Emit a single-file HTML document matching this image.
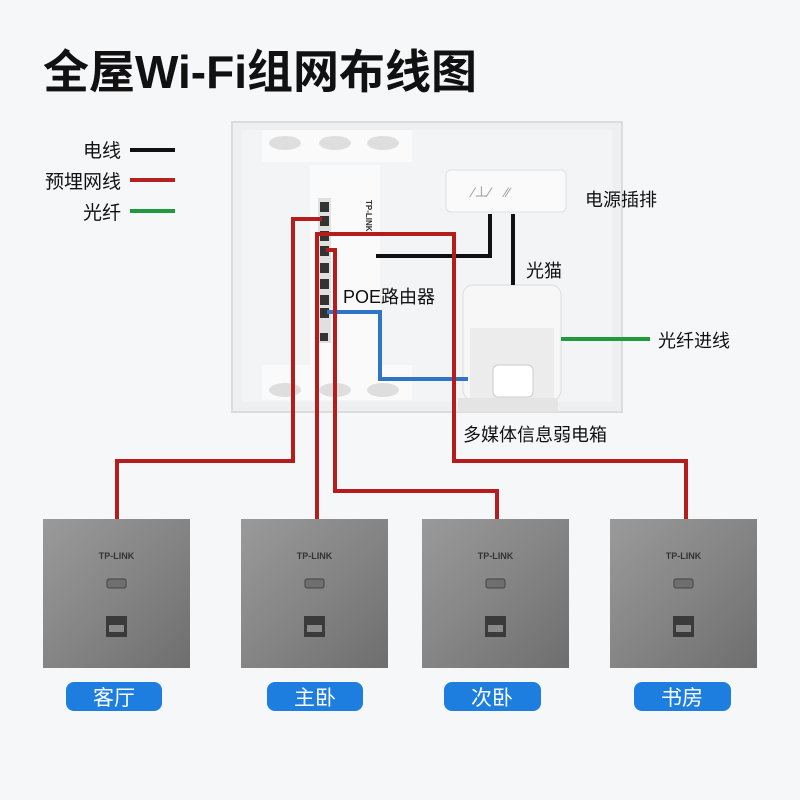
<!DOCTYPE html>
<html><head><meta charset="utf-8"><style>
body{margin:0;width:800px;height:800px;background:#f6f7f9;overflow:hidden;font-family:"Liberation Sans","Noto Sans CJK SC",sans-serif}
svg{position:absolute;left:0;top:0}
</style></head><body>
<svg width="800" height="800" viewBox="0 0 800 800">
<defs>
<linearGradient id="pg" x1="0" y1="0" x2="1" y2="1">
<stop offset="0" stop-color="#9a9a9a"/><stop offset="0.5" stop-color="#858585"/><stop offset="1" stop-color="#6e6e6e"/>
</linearGradient>
</defs>
<text x="43" y="88" font-size="46" font-weight="bold" fill="#111" font-family="Liberation Sans,Noto Sans CJK SC,sans-serif">全屋Wi-Fi组网布线图</text>
<g font-size="19" fill="#111" text-anchor="end">
<text x="121" y="157">电线</text><text x="121" y="188">预埋网线</text><text x="121" y="219">光纤</text>
</g>
<rect x="130" y="148" width="45" height="4" fill="#111"/>
<rect x="130" y="178" width="45" height="4" fill="#b52020"/>
<rect x="130" y="209" width="45" height="4" fill="#1e9a3e"/>
<!-- box -->
<rect x="232" y="122" width="390" height="290" fill="#eeeff1" stroke="#dcdcdc" stroke-width="2"/>
<rect x="242" y="130" width="370" height="272" fill="#f3f4f5"/>
<rect x="262" y="130" width="150" height="32" fill="#fafafa"/>
<rect x="262" y="365" width="150" height="35" fill="#fafafa"/>
<g fill="#dedede"><ellipse cx="285" cy="143" rx="16" ry="7"/><ellipse cx="335" cy="143" rx="16" ry="7"/><ellipse cx="383" cy="143" rx="16" ry="7"/>
<ellipse cx="285" cy="390" rx="16" ry="7"/><ellipse cx="335" cy="390" rx="16" ry="7"/><ellipse cx="383" cy="390" rx="16" ry="7"/></g>
<rect x="310" y="165" width="70" height="200" fill="#fafafa"/>
<text x="366" y="200" font-size="8" font-weight="bold" fill="#333" transform="rotate(90 366 200)">TP-LINK</text>
<rect x="318" y="198" width="13" height="145" fill="#e0e0e0"/>
<g fill="#333"><rect x="320" y="202" width="9" height="10"/><rect x="320" y="216" width="9" height="10"/><rect x="320" y="231" width="9" height="10"/><rect x="320" y="246" width="9" height="10"/><rect x="320" y="263" width="9" height="10"/><rect x="320" y="279" width="9" height="10"/><rect x="320" y="295" width="9" height="10"/><rect x="320" y="308" width="9" height="10"/><rect x="320" y="333" width="8" height="8"/></g>
<!-- power strip -->
<rect x="446" y="170" width="120" height="42" rx="5" fill="#fafafa" stroke="#e0e0e0"/>
<text x="472" y="197" font-size="14" fill="#999">⁄⊥⁄</text><text x="505" y="197" font-size="14" fill="#999">⁄⁄</text>
<!-- modem -->
<rect x="463" y="285" width="98" height="115" rx="10" fill="#f7f7f7" stroke="#ddd"/>
<rect x="470" y="328" width="84" height="70" fill="#ececec"/>
<rect x="493" y="365" width="40" height="32" rx="5" fill="#fff" stroke="#ccc"/>
<rect x="458" y="398" width="100" height="14" fill="#e4e4e4"/>
<!-- wires -->
<g fill="none" stroke-width="4" stroke-linejoin="miter">
<polyline stroke="#111" points="376,256 490,256 490,214"/>
<polyline stroke="#111" points="513,214 513,285"/>
<polyline stroke="#1f9a3c" points="561,339 650,339"/>
<polyline stroke="#2f74c8" points="327,312 380,312 380,379 468,379"/>
<g stroke="#b51d1d">
<polyline points="322,219 293,219 293,461 117,461 117,519"/>
<polyline points="317,519 317,234 454,234 454,461 686,461 686,519"/>
<polyline points="326,250 335,250 335,491 497,491 497,519"/>
</g></g>
<g font-size="18" fill="#111">
<text x="585" y="206">电源插排</text>
<text x="526" y="277">光猫</text>
<text x="343" y="303">POE路由器</text>
<text x="658" y="347">光纤进线</text>
<text x="463" y="441">多媒体信息弱电箱</text>
</g>
<!-- panels -->
<g id="p">
<rect x="43" y="519" width="147" height="149" fill="url(#pg)"/>
<text x="116.5" y="559" font-size="9" font-weight="bold" fill="#333" text-anchor="middle">TP-LINK</text>
<rect x="107" y="579" width="19" height="9" rx="2" fill="#6f6f6f" stroke="#444"/>
<rect x="106" y="616" width="21" height="21" fill="#3a3a3a"/>
<rect x="109" y="625" width="15" height="7" fill="#888"/>
</g>
<use href="#p" x="198"/><use href="#p" x="379"/><use href="#p" x="567"/>
<g fill="#1e7ee0"><rect x="66" y="682" width="96" height="29" rx="8"/><rect x="267" y="682" width="96" height="29" rx="8"/><rect x="444" y="682" width="97" height="29" rx="8"/><rect x="634" y="682" width="97" height="29" rx="8"/></g>
<g font-size="21" fill="#fff" text-anchor="middle">
<text x="114" y="705">客厅</text><text x="315" y="705">主卧</text><text x="492" y="705">次卧</text><text x="682" y="705">书房</text>
</g>
</svg>
</body></html>
